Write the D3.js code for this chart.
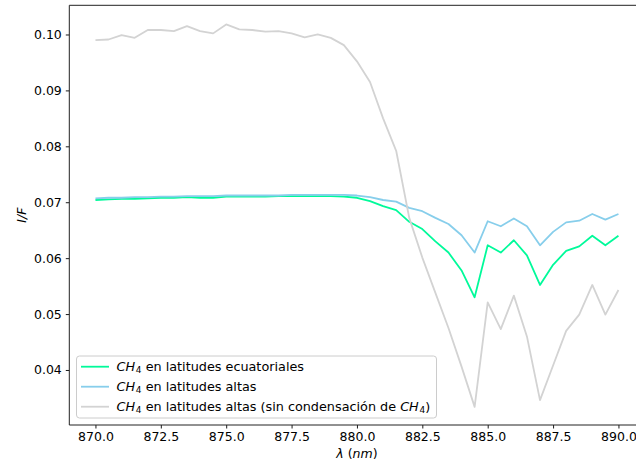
<!DOCTYPE html>
<html><head><meta charset="utf-8">
<script src="https://cdn.jsdelivr.net/npm/d3@7"></script>
<style>body{margin:0;background:#fff}svg{display:block}text{font-family:"DejaVu Sans",sans-serif}</style>
</head><body>
<svg id="c" width="636" height="465"></svg>
<script>
const wavelengths = [870,870.5,871,871.5,872,872.5,873,873.5,874,874.5,875,875.5,876,876.5,877,877.5,878,878.5,879,879.5,880,880.5,881,881.5,882,882.5,883,883.5,884,884.5,885,885.5,886,886.5,887,887.5,888,888.5,889,889.5,890];
const ecuatoriales = [0.0704,0.0705,0.0706,0.0706,0.0707,0.0708,0.0708,0.0709,0.0708,0.0708,0.0710,0.0710,0.0710,0.0710,0.0711,0.0711,0.0711,0.0711,0.0711,0.0710,0.0708,0.0702,0.0693,0.0686,0.0665,0.0652,0.0630,0.0610,0.0578,0.0530,0.0623,0.0610,0.0632,0.0605,0.0552,0.0588,0.0613,0.0621,0.0640,0.0623,0.0640];
const altas = [0.0707,0.0708,0.0708,0.0709,0.0709,0.0710,0.0710,0.0711,0.0711,0.0711,0.0712,0.0712,0.0712,0.0712,0.0712,0.0713,0.0713,0.0713,0.0713,0.0713,0.0712,0.0709,0.0704,0.0701,0.0690,0.0684,0.0672,0.0661,0.0641,0.0610,0.0666,0.0657,0.0671,0.0657,0.0623,0.0647,0.0664,0.0667,0.0679,0.0669,0.0679];
const sinCondensacion = [0.0990,0.0991,0.0999,0.0994,0.1008,0.1008,0.1006,0.1015,0.1006,0.1002,0.1018,0.1009,0.1008,0.1005,0.1006,0.1002,0.0995,0.1000,0.0994,0.0981,0.0952,0.0915,0.0850,0.0792,0.0672,0.0601,0.0538,0.0475,0.0406,0.0334,0.0521,0.0473,0.0533,0.0460,0.0346,0.0408,0.0470,0.0499,0.0552,0.0499,0.0543];
const xTicks = [870.0,872.5,875.0,877.5,880.0,882.5,885.0,887.5,890.0];
const yTicks = [0.04,0.05,0.06,0.07,0.08,0.09,0.10];
const seriesNames = ["en latitudes ecuatoriales","en latitudes altas","en latitudes altas (sin condensación de "];
const colors = ["#00FA9A","#87CEEB","#D3D3D3"];

const svg = d3.select("#c");
const L = 69.3, R = 644.6, T = 5.3, B = 425;
const x = d3.scaleLinear().domain([869, 891]).range([L, R]);
const y = d3.scaleLinear().domain([0.03016, 0.10522]).range([B, T]);
const FS = 12.5, LFS = 12.8;

const data = [ecuatoriales, altas, sinCondensacion];
const line = d3.line().x((d,i)=>x(wavelengths[i])).y(d=>y(d));
data.forEach((s,k)=>{
  svg.append("path").datum(s).attr("d", line).attr("fill","none")
    .attr("stroke", colors[k]).attr("stroke-width",1.8).attr("stroke-linejoin","round");
});

// axes
const xAxis = svg.append("g").attr("transform",`translate(0,${B})`)
  .call(d3.axisBottom(x).tickValues(xTicks).tickFormat(d3.format(".1f")).tickSizeOuter(0).tickSize(3.5).tickPadding(4));
const yAxis = svg.append("g").attr("transform",`translate(${L},0)`)
  .call(d3.axisLeft(y).tickValues(yTicks).tickFormat(d3.format(".2f")).tickSizeOuter(0).tickSize(3.5).tickPadding(4));
[xAxis,yAxis].forEach(g=>{
  g.selectAll("text").attr("font-size",FS).attr("fill","#000").attr("font-family","DejaVu Sans");
  g.selectAll("line").attr("stroke","#000").attr("stroke-width",0.9);
  g.select(".domain").remove();
});
// spines
svg.append("line").attr("x1",L).attr("x2",L).attr("y1",T).attr("y2",B).attr("stroke","#222").attr("stroke-width",1);
svg.append("line").attr("x1",L).attr("x2",R).attr("y1",B).attr("y2",B).attr("stroke","#222").attr("stroke-width",1);
svg.append("line").attr("x1",L).attr("x2",R).attr("y1",T).attr("y2",T).attr("stroke","#222").attr("stroke-width",1);
svg.append("line").attr("x1",R).attr("x2",R).attr("y1",T).attr("y2",B).attr("stroke","#222").attr("stroke-width",1);

// axis labels
svg.append("text").attr("transform",`translate(26,${(T+B)/2}) rotate(-90)`)
  .attr("text-anchor","middle").attr("font-size",FS).attr("font-style","italic").text("I/F");
const xl = svg.append("text").attr("x",(L+R)/2).attr("y",458).attr("text-anchor","middle").attr("font-size",FS);
xl.append("tspan").attr("font-style","italic").text("λ");
xl.append("tspan").text(" (");
xl.append("tspan").attr("font-style","italic").text("nm");
xl.append("tspan").text(")");

// legend
const lg = svg.append("g");
lg.append("rect").attr("x",76.5).attr("y",356).attr("width",360).attr("height",62).attr("rx",3)
  .attr("fill","#fff").attr("fill-opacity",0.8).attr("stroke","#ccc").attr("stroke-width",1);
seriesNames.forEach((name,k)=>{
  const yy = 366.7 + k*20;
  lg.append("line").attr("x1",81).attr("x2",109).attr("y1",yy).attr("y2",yy)
    .attr("stroke",colors[k]).attr("stroke-width",1.8);
  const t = lg.append("text").attr("x",116.5).attr("y",yy+4.5).attr("font-size",LFS);
  t.append("tspan").attr("font-style","italic").text("CH");
  t.append("tspan").attr("font-size",LFS*0.7).attr("dy",2).attr("dx",0.8).text("4");
  t.append("tspan").attr("dy",-2).text(" " + name);
  if (k===2){
    t.append("tspan").attr("font-style","italic").text("CH");
    t.append("tspan").attr("font-size",LFS*0.7).attr("dy",2).attr("dx",0.8).text("4");
    t.append("tspan").attr("dy",-2).text(")");
  }
});
</script>
</body></html>
